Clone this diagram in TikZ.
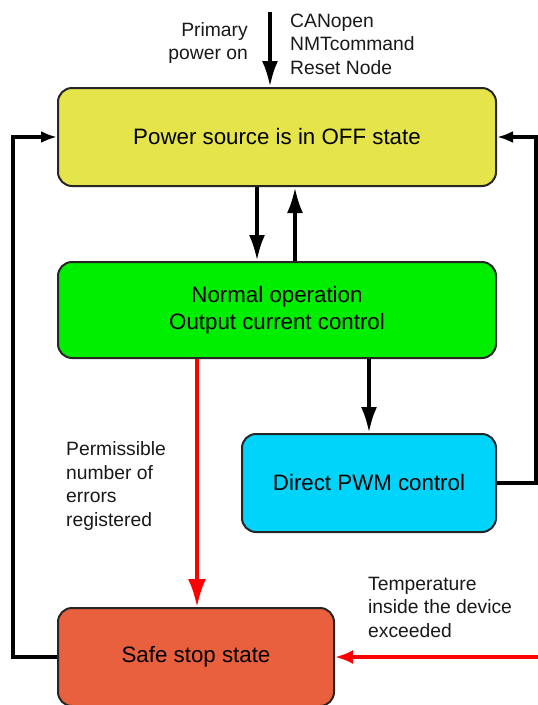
\documentclass[tikz,border=0pt]{standalone}
\usepackage{fontspec}
\setmainfont{Liberation Sans}
\usetikzlibrary{arrows.meta}

\definecolor{offyellow}{HTML}{E5E44A}
\definecolor{normgreen}{HTML}{00EE00}
\definecolor{pwmcyan}{HTML}{00D4FA}
\definecolor{safered}{HTML}{E8603E}
\definecolor{alarmred}{HTML}{FF0000}

\tikzset{
  statebox/.style={draw=black!85, line width=2pt, rounded corners=14pt,
    align=center, font=\fontsize{22.3}{27}\selectfont, inner sep=0pt},
  note/.style={font=\fontsize{19.3}{23.5}\selectfont, inner sep=0pt, text=black!90},
  flow/.style={line width=4pt, -{Latex[length=26pt,width=16pt]}},
  loop/.style={line width=4pt, -{Latex[length=16pt,width=12pt]}},
  fault/.style={line width=3.5pt, alarmred, -{Latex[length=28pt,width=18pt]}},
  faultside/.style={line width=3.5pt, alarmred, -{Latex[length=18pt,width=14pt]}}
}

\begin{document}
\begin{tikzpicture}[x=1pt,y=-1pt]

\useasboundingbox (0,0) rectangle (538,705);

% Etats
\node[statebox, fill=offyellow, minimum width=438pt, minimum height=98pt]
(off) at (277,137)
{Power source is in OFF state};

\node[statebox, fill=normgreen, minimum width=438pt, minimum height=96pt]
(normal) at (277,310)
{Normal operation\\Output current control};

\node[statebox, fill=pwmcyan, minimum width=254pt, minimum height=98pt]
(pwm) at (369,483)
{Direct PWM control};

\node[statebox, fill=safered, minimum width=276pt, minimum height=98pt]
(safe) at (196,657)
{Safe stop state};

% Textes
\node[note, align=right, anchor=east]
(power) at (248,43)
{Primary\\power on};

\node[note, align=left, anchor=west]
(canopen) at (290,44)
{CANopen\\NMTcommand\\Reset Node};

\node[note, align=left, anchor=west]
(errors) at (66,486)
{Permissible\\number of\\errors\\registered};

\node[note, align=left, anchor=west]
(temp) at (368,607)
{Temperature\\inside the device\\exceeded};

% Flèches
\coordinate (start) at (270,12);
\coordinate (sensor) at (538,657);

\draw[flow]
(start)
--
(start |- off.north);

\draw[flow]
([xshift=-20pt]off.south)
--
([xshift=-20pt]normal.north);

\draw[flow]
([xshift=18pt]normal.north)
--
([xshift=18pt]off.south);

\draw[flow]
(pwm.north |- normal.south)
--
(pwm.north);

\draw[loop]
(pwm.east)
-- ++(39,0)
|-
(off.east);

\draw[loop]
(safe.west)
-- ++(-44,0)
|-
(off.west);

\draw[fault]
([xshift=1pt]safe.north |- normal.south)
--
([xshift=1pt]safe.north);

\draw[faultside]
(sensor)
--
(safe.east);

\end{tikzpicture}
\end{document}
